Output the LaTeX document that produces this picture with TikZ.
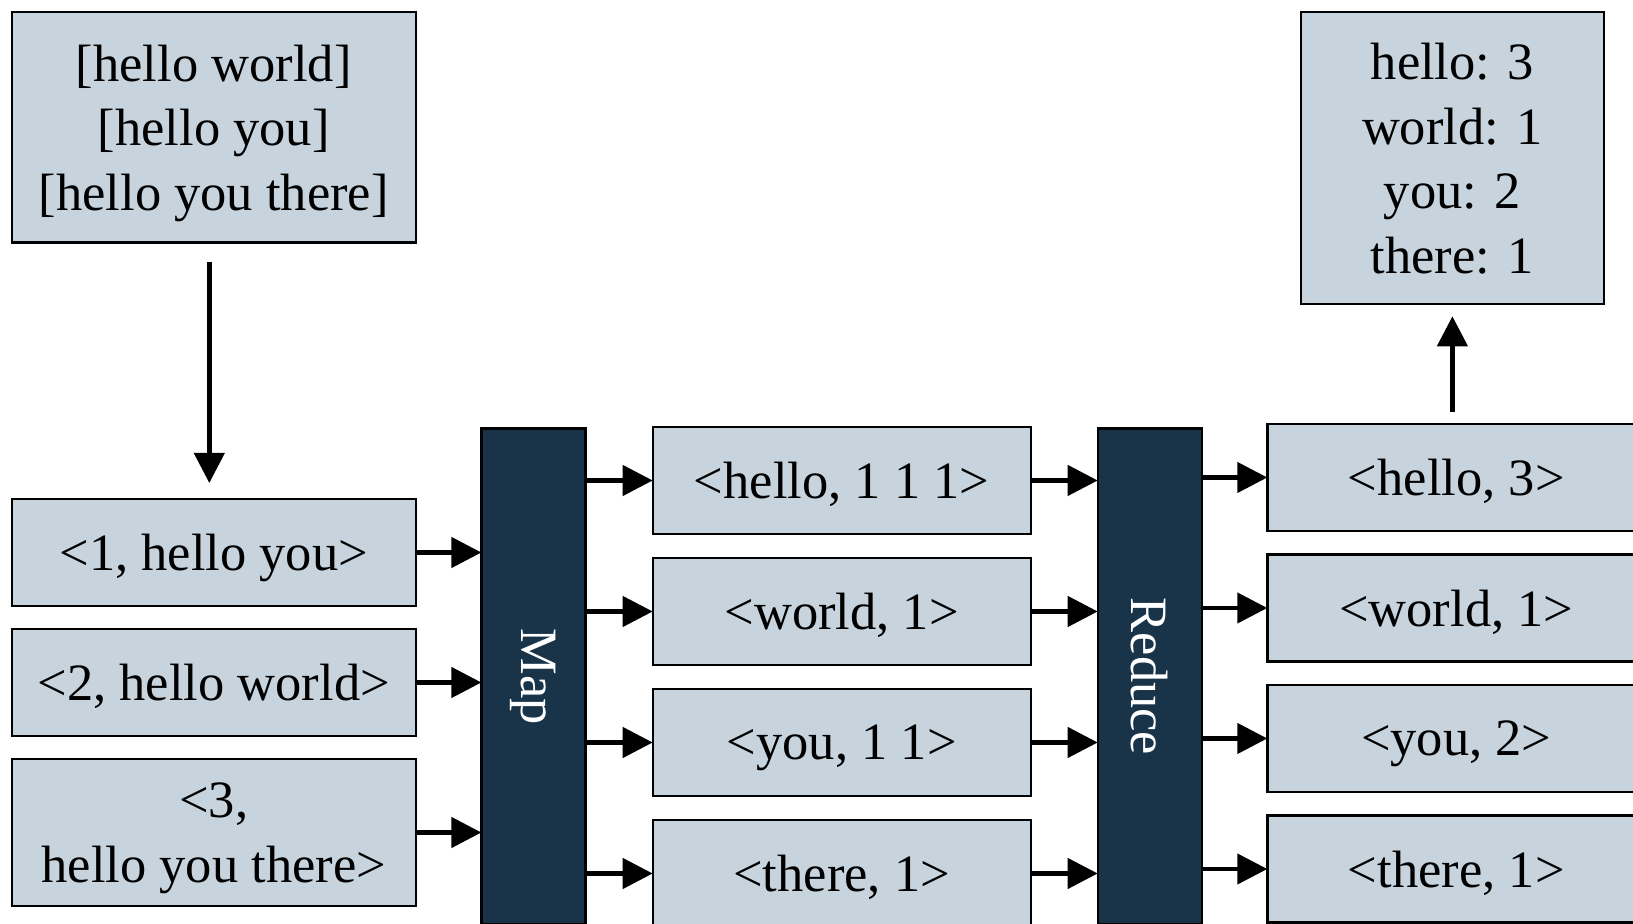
\documentclass[tikz,border=0pt]{standalone}
\usepackage{fontspec}
\setmainfont{Liberation Serif}
\usetikzlibrary{arrows.meta,positioning}

\definecolor{pairfill}{RGB}{199,212,221}
\definecolor{stagefill}{RGB}{25,52,73}

\begin{document}
\begin{tikzpicture}[x=1pt,y=1pt,->,>={Triangle[length=15pt,width=15pt]},line width=2.2pt,
    font=\fontsize{26.25}{32.3}\selectfont]

    \tikzstyle{pair}=[draw=black,line width=1.2pt,fill=pairfill,text=black,align=center,text depth=0pt,
        minimum width=189pt,minimum height=53.5pt,inner sep=0pt,outer sep=0pt]
    \tikzstyle{stage}=[draw=black,line width=1.2pt,fill=stagefill,text=white,
        minimum width=52pt,minimum height=248pt,inner sep=0pt,outer sep=0pt]

    \path[use as bounding box] (0,0) rectangle (816.5,462);
    \clip (0,0) rectangle (816.5,462);

    % input file and its records
    \node[pair, minimum width=202pt, minimum height=115.2pt] (src) at (106.85,398.25)
        {{[hello world]}\\{[hello you]}\\{[hello you there]}};
    \node[pair, minimum width=202pt]                         (in1) at (106.85,185.75) {<1, hello you>};
    \node[pair, minimum width=202pt, below=11.5pt of in1]   (in2) {<2, hello world>};
    \node[pair, minimum width=202pt, minimum height=73.5pt, below=11.5pt of in2] (in3) {<3,\\hello you there>};

    % map and reduce stages
    \node[stage] (map) at (266.7,123.75)  {\rotatebox{-90}{Map}\hspace{8pt}};
    \node[stage] (red) at (574.85,123.75) {\rotatebox{-90}{Reduce}\hspace{3pt}};

    % grouped pairs
    \node[pair]                    (m1) at (420.85,221.75) {<hello, 1 1 1>};
    \node[pair, below=12pt of m1] (m2) {<world, 1>};
    \node[pair, below=12pt of m2] (m3) {<you, 1 1>};
    \node[pair, below=12pt of m3] (m4) {<there, 1>};

    % reduced pairs
    \node[pair]                       (r1) at (728.15,223.25) {<hello, 3>};
    \node[pair, below=11.75pt of r1] (r2) {<world, 1>};
    \node[pair, below=11.75pt of r2] (r3) {<you, 2>};
    \node[pair, below=11.75pt of r3] (r4) {<there, 1>};

    % output
    \node[pair, minimum width=151.65pt, minimum height=146pt] (result) at (726.2,382.85)
        {hello: 3\\world: 1\\you: 2\\there: 1};

    \path ([xshift=-2.2pt]src.south) edge [shorten <=9.5pt, shorten >=8pt] ([xshift=-2.2pt]in1.north)
          (r1.north -| result.south) edge [shorten <=6pt, shorten >=6pt] (result.south)
    ;

    \foreach \i in {1,2,3}
        \draw (in\i.east) -- (in\i.east -| map.west);
    \foreach \i in {1,...,4} {
        \draw (m\i.west -| map.east) -- (m\i.west);
        \draw (m\i.east) -- (m\i.east -| red.west);
        \draw (r\i.west -| red.east) -- (r\i.west);
    }
\end{tikzpicture}
\end{document}
